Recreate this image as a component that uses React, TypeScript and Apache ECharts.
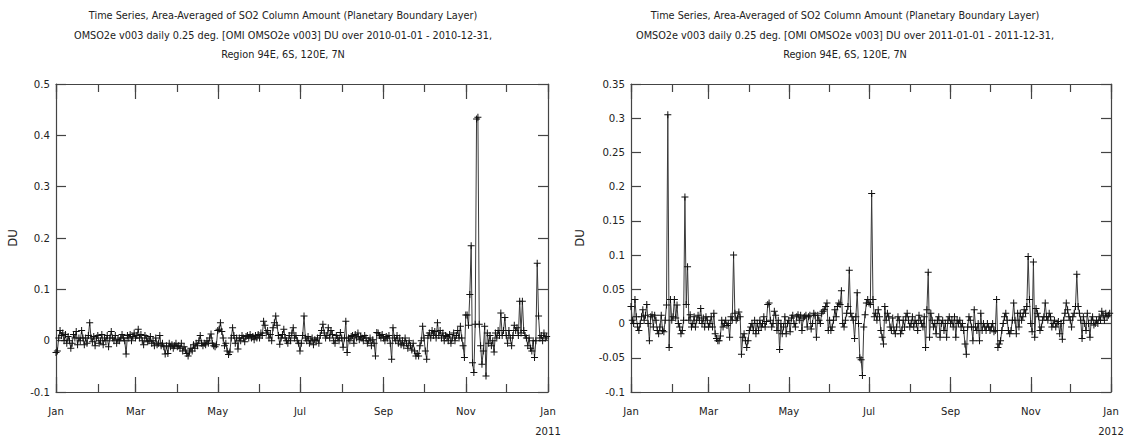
import React, { useEffect, useRef } from "react";
import * as echarts from "echarts";

// ---------- data: daily area-averaged SO2 (DU) ----------
const jan10 = [-0.023, -0.02, 0.005, 0.02, 0.01, 0.015, 0.0, 0.012, -0.005, 0.008, 0.0, -0.015, -0.005, 0.012, 0.005, 0.018, -0.008, 0.005, 0.0, 0.02, 0.005, -0.008, 0.005, -0.005, 0.01, 0.035, 0.005, -0.002, 0.008, -0.01, 0.005];
const feb10 = [0.01, -0.005, 0.0, 0.012, -0.008, 0.005, 0.0, 0.01, -0.012, 0.005, 0.018, 0.005, 0.0, 0.01, -0.005, 0.003, 0.0, 0.005, 0.012, 0.005, 0.0, -0.026, 0.01, 0.005, 0.012, 0.0, 0.008, 0.015];
const mar10 = [0.005, 0.01, 0.022, 0.005, 0.012, 0.0, -0.008, 0.01, 0.005, -0.002, 0.0, 0.008, -0.005, 0.0, -0.01, 0.005, -0.008, -0.005, 0.01, -0.01, -0.005, -0.012, -0.026, -0.01, -0.025, -0.005, -0.012, -0.008, -0.015, -0.01, -0.005];
const apr10 = [-0.012, -0.01, -0.015, -0.005, -0.02, -0.012, -0.018, -0.025, -0.03, -0.022, -0.015, -0.02, -0.008, -0.015, -0.005, -0.01, 0.0, 0.01, -0.005, -0.01, -0.005, -0.008, 0.0, -0.005, 0.005, 0.013, -0.005, -0.01, -0.012, -0.008];
const may10 = [0.02, 0.022, 0.035, 0.018, 0.005, -0.01, -0.005, -0.02, -0.027, -0.022, 0.005, 0.025, 0.01, -0.005, 0.005, -0.016, 0.005, 0.0, 0.01, 0.005, -0.002, 0.008, 0.01, 0.005, 0.012, 0.005, 0.008, 0.002, 0.01, 0.005, 0.012];
const jun10 = [0.005, 0.015, 0.01, 0.038, 0.03, 0.015, 0.02, 0.005, 0.012, 0.0, 0.025, 0.035, 0.048, 0.03, 0.01, -0.007, 0.005, 0.012, 0.022, 0.005, 0.0, -0.005, 0.01, 0.0, 0.015, 0.025, 0.005, 0.01, 0.0, -0.005];
const jul10 = [-0.02, -0.005, 0.01, 0.048, 0.005, 0.0, 0.008, -0.005, 0.0, 0.005, -0.008, 0.002, 0.0, 0.005, -0.005, 0.01, 0.02, 0.032, 0.015, 0.005, 0.01, 0.025, 0.005, 0.02, 0.012, 0.0, -0.005, 0.01, 0.005, 0.0, 0.016];
const aug10 = [0.005, -0.013, 0.005, 0.038, -0.023, 0.005, 0.0, 0.008, 0.01, -0.005, 0.012, 0.005, 0.015, 0.002, 0.008, 0.005, 0.0, 0.01, 0.005, -0.005, 0.0, 0.005, -0.01, 0.002, -0.005, -0.03, 0.016, 0.015, 0.01, 0.005, 0.012];
const sep10 = [0.005, 0.0, 0.008, 0.005, 0.01, -0.005, -0.036, 0.025, 0.005, 0.0, 0.01, -0.005, 0.005, -0.008, 0.0, -0.01, 0.005, -0.005, -0.015, 0.0, -0.01, -0.018, -0.005, -0.02, -0.03, -0.025, -0.03, -0.01, 0.0, 0.028];
const oct10 = [0.005, -0.02, -0.036, 0.01, 0.015, 0.005, 0.02, 0.01, 0.018, 0.005, 0.035, 0.01, 0.02, 0.005, 0.015, 0.0, 0.01, 0.008, 0.0, 0.012, -0.005, 0.005, 0.015, 0.0, 0.01, 0.02, 0.005, 0.028, 0.005, -0.01, -0.033];
const nov10 = [0.05, 0.05, 0.03, 0.09, 0.185, -0.043, -0.062, 0.032, 0.432, 0.435, 0.032, -0.01, -0.046, -0.02, 0.028, -0.069, 0.015, -0.005, 0.01, -0.01, 0.0, -0.022, 0.015, 0.005, 0.02, 0.01, 0.054, 0.01, 0.02, 0.045];
const dec10 = [0.01, -0.005, 0.02, 0.005, -0.01, 0.01, 0.03, 0.02, 0.025, 0.01, 0.077, 0.015, 0.077, 0.02, 0.01, 0.005, -0.01, 0.005, -0.015, -0.02, 0.0, -0.033, 0.0, 0.151, 0.048, 0.005, 0.01, 0.0, 0.015, 0.005, 0.008];

const jan11 = [0.025, 0.005, 0.0, 0.035, 0.01, -0.005, -0.01, 0.0, 0.01, 0.02, 0.005, 0.012, 0.028, 0.0, -0.025, 0.01, 0.013, -0.005, 0.012, 0.005, -0.01, -0.015, -0.005, 0.012, -0.01, -0.012, 0.005, 0.027, 0.305, -0.035, 0.035];
const feb11 = [0.005, 0.01, 0.035, 0.008, 0.027, 0.0, -0.005, -0.015, -0.01, 0.005, 0.185, 0.028, 0.083, 0.005, 0.013, -0.005, 0.0, 0.01, -0.005, 0.005, 0.012, 0.005, 0.022, 0.0, 0.008, -0.005, 0.01, 0.005];
const mar11 = [-0.005, 0.0, 0.01, -0.005, 0.015, -0.015, -0.022, -0.025, -0.025, -0.018, 0.005, -0.005, 0.0, 0.005, -0.003, 0.0, -0.02, 0.01, 0.005, 0.1, 0.015, 0.005, 0.008, 0.017, 0.01, -0.045, -0.02, -0.015, -0.025, -0.035, -0.025];
const apr11 = [-0.01, -0.005, 0.0, -0.01, 0.005, -0.015, 0.0, -0.01, 0.005, -0.005, 0.0, 0.01, -0.005, 0.003, 0.028, 0.03, 0.005, -0.005, 0.0, 0.018, 0.012, -0.01, 0.005, -0.038, 0.0, -0.015, -0.005, 0.01, -0.015, 0.0];
const may11 = [0.005, -0.012, 0.008, 0.012, 0.0, -0.005, 0.01, 0.013, 0.005, 0.012, -0.01, 0.008, 0.01, 0.012, -0.005, 0.01, 0.012, -0.008, 0.0, 0.015, 0.012, -0.02, 0.012, 0.005, 0.0, 0.015, 0.018, 0.02, 0.025, 0.03, -0.01];
const jun11 = [0.005, -0.01, -0.005, 0.005, 0.02, 0.01, 0.025, 0.03, 0.028, 0.048, 0.0, -0.005, 0.005, 0.015, 0.025, 0.078, 0.015, 0.01, 0.005, -0.022, 0.01, 0.045, 0.0, -0.05, -0.053, -0.076, -0.005, 0.013, 0.03, 0.035];
const jul11 = [0.03, 0.028, 0.19, 0.035, 0.01, 0.015, 0.005, 0.02, 0.01, -0.01, -0.02, -0.03, 0.025, 0.005, 0.015, 0.01, -0.005, -0.01, 0.008, -0.01, -0.015, -0.005, 0.01, 0.005, -0.015, -0.01, 0.005, -0.005, 0.01, 0.015, 0.005];
const aug11 = [-0.005, 0.0, 0.01, -0.005, 0.005, 0.0, -0.01, 0.012, 0.005, 0.0, -0.005, 0.01, -0.035, 0.02, 0.075, -0.02, 0.015, 0.005, -0.005, 0.0, -0.015, 0.005, 0.01, -0.02, 0.0, 0.005, -0.01, 0.0, -0.02, 0.005, 0.01];
const sep11 = [0.0, 0.005, -0.005, 0.01, -0.02, 0.005, 0.0, 0.005, -0.005, 0.0, -0.01, -0.03, -0.045, -0.005, 0.01, 0.005, -0.005, -0.025, 0.02, -0.005, -0.01, 0.0, -0.025, 0.015, -0.01, 0.0, -0.005, -0.01, 0.0, -0.005];
const oct11 = [-0.01, -0.005, 0.0, -0.012, -0.01, 0.035, -0.035, -0.03, -0.025, -0.01, 0.0, 0.01, 0.015, 0.005, -0.01, -0.015, -0.01, 0.005, 0.03, 0.005, -0.015, 0.015, -0.005, 0.015, 0.005, 0.01, 0.02, 0.015, 0.025, 0.098, 0.035];
const nov11 = [0.0, -0.012, 0.09, -0.02, 0.022, 0.015, 0.01, -0.01, -0.005, 0.005, 0.01, 0.03, 0.01, 0.005, 0.015, 0.01, -0.005, 0.0, 0.005, -0.005, 0.0, 0.003, -0.015, 0.0, -0.023, 0.005, 0.015, 0.03, 0.02, 0.01];
const dec11 = [0.005, -0.005, 0.01, 0.015, 0.025, 0.072, 0.025, 0.015, 0.005, -0.022, 0.01, 0.0, -0.01, 0.015, 0.0, -0.02, 0.005, 0.01, -0.002, 0.0, 0.005, 0.0, 0.01, 0.005, 0.018, 0.012, 0.005, 0.015, 0.01, 0.012, 0.015];

const values2010 = [jan10, feb10, mar10, apr10, may10, jun10, jul10, aug10, sep10, oct10, nov10, dec10];
const values2011 = [jan11, feb11, mar11, apr11, may11, jun11, jul11, aug11, sep11, oct11, nov11, dec11];

const monthNames = ["Jan", "Feb", "Mar", "Apr", "May", "Jun", "Jul", "Aug", "Sep", "Oct", "Nov", "Dec"];
const labeledMonthNumbers = [1, 3, 5, 7, 9, 11]; // Jan, Mar, May, Jul, Sep, Nov (1-based)
const yTicks2010 = { min: -0.1, max: 0.5, interval: 0.1 };
const yTicks2011 = { min: -0.1, max: 0.35, interval: 0.05 };

const titleLine1 = "Time Series, Area-Averaged of SO2 Column Amount (Planetary Boundary Layer)";
const titleLine2 = (y: number) => `OMSO2e v003 daily 0.25 deg. [OMI OMSO2e v003] DU over ${y}-01-01 - ${y}-12-31,`;
const titleLine3 = "Region 94E, 6S, 120E, 7N";

const FONT = "'DejaVu Sans Condensed', 'DejaVu Sans', sans-serif";
const AX = "#444";
const PLUS = "path://M3,0H4V3H7V4H4V7H3V4H0V3H3Z";

// daily date categories from Jan 1 of the year to Jan 1 of the next year (inclusive)
function dayCategories(year: number) {
  const out: string[] = [];
  const start = Date.UTC(year, 0, 1);
  const end = Date.UTC(year + 1, 0, 1);
  for (let t = start; t <= end; t += 864e5) out.push(new Date(t).toISOString().slice(0, 10));
  return out;
}
const isMonthStart = (v: string) => v.slice(8, 10) === "01";
const isLabeledMonthStart = (v: string) => isMonthStart(v) && labeledMonthNumbers.includes(parseInt(v.slice(5, 7), 10));

function xAxesFor(gridIndex: number, year: number) {
  const cats = dayCategories(year);
  const base: any = {
    type: "category",
    gridIndex,
    data: cats,
    boundaryGap: false,
    splitLine: { show: false },
    axisPointer: { show: false },
  };
  const majorTick = { show: true, inside: true, length: 15, interval: (_i: number, v: string) => isLabeledMonthStart(v), lineStyle: { color: AX, width: 1.2 } };
  const minorTick = { show: true, inside: true, length: 8, interval: (_i: number, v: string) => isMonthStart(v), lineStyle: { color: AX, width: 1.2 } };
  return [
    {
      ...base,
      position: "bottom",
      axisLine: { show: true, onZero: false, lineStyle: { color: AX, width: 1.2 } },
      axisTick: majorTick,
      axisLabel: {
        show: true,
        interval: (_i: number, v: string) => isLabeledMonthStart(v),
        margin: 9,
        color: "#222",
        fontSize: 11.2,
        fontFamily: FONT,
        lineHeight: 20,
        hideOverlap: false,
        formatter: (v: string) => {
          const y = parseInt(v.slice(0, 4), 10);
          const m = parseInt(v.slice(5, 7), 10) - 1;
          if (y !== year) return `${monthNames[m]}\n${y}`;
          return monthNames[m];
        },
      },
    },
    { ...base, position: "bottom", axisLine: { show: false, onZero: false }, axisTick: minorTick, axisLabel: { show: false } },
    { ...base, position: "top", axisLine: { show: true, onZero: false, lineStyle: { color: AX, width: 1.2 } }, axisTick: majorTick, axisLabel: { show: false } },
    { ...base, position: "top", axisLine: { show: false, onZero: false }, axisTick: minorTick, axisLabel: { show: false } },
  ];
}

function yAxesFor(gridIndex: number, t: { min: number; max: number; interval: number }, nameGap: number) {
  const base: any = {
    type: "value",
    gridIndex,
    min: t.min,
    max: t.max,
    interval: t.interval,
    splitLine: { show: false },
    axisLine: { show: true, onZero: false, lineStyle: { color: AX, width: 1.2 } },
    axisTick: { show: true, inside: true, length: 10, lineStyle: { color: AX, width: 1.2 } },
  };
  return [
    {
      ...base,
      position: "left",
      name: "DU",
      nameLocation: "middle",
      nameGap,
      nameRotate: 90,
      nameTextStyle: { fontFamily: FONT, fontSize: 13, color: "#222" },
      axisLabel: { margin: 6, color: "#222", fontSize: 11.3, fontFamily: FONT },
    },
    { ...base, position: "right", axisLabel: { show: false } },
  ];
}

function seriesFor(gridIdx: number, months: number[][]) {
  const data = ([] as number[]).concat(...months);
  return {
    type: "line",
    xAxisIndex: gridIdx * 4,
    yAxisIndex: gridIdx * 2,
    data,
    symbol: PLUS,
    symbolSize: 7,
    showSymbol: true,
    showAllSymbol: true,
    lineStyle: { color: "#3a3a3a", width: 1 },
    itemStyle: { color: "#111" },
    emphasis: { disabled: true },
    silent: true,
  };
}

export default function App() {
  const ref = useRef<HTMLDivElement>(null);
  useEffect(() => {
    if (!ref.current) return;
    const chart = echarts.init(ref.current, null, { renderer: "svg" });
    const titleStyle = { fontFamily: FONT, fontSize: 10.8, fontWeight: "normal" as const, color: "#222", lineHeight: 19.5 };
    chart.setOption({
      animation: false,
      backgroundColor: "#fff",
      title: [
        { text: `${titleLine1}\n${titleLine2(2010)}\n${titleLine3}`, left: 283, top: 6, padding: 0, textAlign: "center", textStyle: titleStyle },
        { text: `${titleLine1}\n${titleLine2(2011)}\n${titleLine3}`, left: 845, top: 6, padding: 0, textAlign: "center", textStyle: titleStyle },
      ],
      grid: [
        { left: 56, top: 84, width: 492, height: 309 },
        { left: 631, top: 84, width: 480, height: 309 },
      ],
      xAxis: [...xAxesFor(0, 2010), ...xAxesFor(1, 2011)],
      yAxis: [...yAxesFor(0, yTicks2010, 37), ...yAxesFor(1, yTicks2011, 45)],
      series: [seriesFor(0, values2010), seriesFor(1, values2011)],
    });
    return () => chart.dispose();
  }, []);
  return (
    <div style={{ position: "absolute", left: 0, top: 0, width: 1129, height: 441, background: "#fff" }}>
      <div ref={ref} style={{ width: 1129, height: 441 }} />
    </div>
  );
}
